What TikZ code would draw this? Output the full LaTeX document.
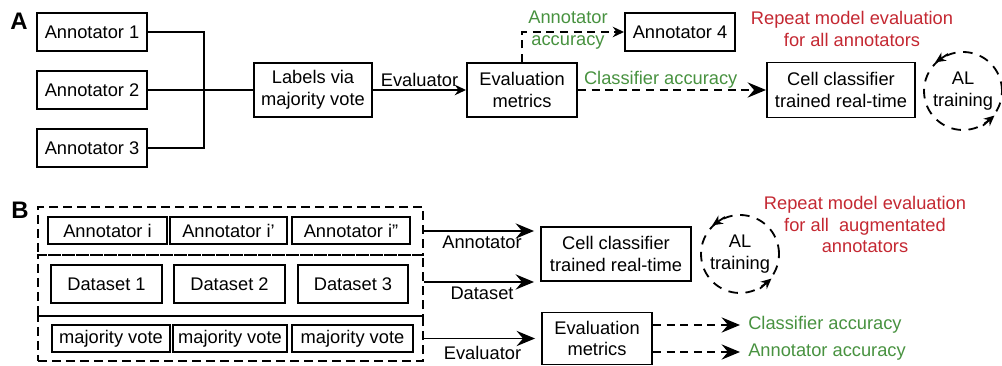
\documentclass[tikz,border=0pt]{standalone}
\usepackage{fontspec}
\setmainfont{Liberation Sans}
\usetikzlibrary{arrows.meta, calc}
\definecolor{accgreen}{RGB}{72, 146, 64}
\definecolor{reprred}{RGB}{196, 40, 50}

\begin{document}
\begin{tikzpicture}[x=0.25mm, y=-0.25mm,
  font=\fontsize{13}{15.6}\selectfont,
  box/.style={draw, line width=1.4pt, inner sep=0pt, align=center},
  frame/.style={draw, line width=1.4pt, dash pattern=on 2.2mm off 1.3mm, inner sep=0pt},
  conn/.style={line width=1.4pt},
  bigarr/.style={conn, -{Stealth[length=4.6mm, width=3.8mm, inset=1.6mm]}},
  smallarr/.style={conn, -{Stealth[length=2.8mm, width=2.6mm]}},
  dashline/.style={dash pattern=on 2mm off 1.4mm},
  edgelbl/.style={inner sep=0pt},
  accnote/.style={text=accgreen, align=center, inner sep=0pt},
  repnote/.style={text=reprred, align=center, inner sep=0pt},
  loopnode/.style={circle, draw, line width=1.3pt, dash pattern=on 2.4mm off 1.9mm, align=center, inner sep=0pt, minimum size=19.5mm},
  looparr/.style={line width=1.3pt, -{Stealth[length=2.6mm, width=2.4mm]}},
  tag/.style={font=\fontsize{17}{17}\selectfont\bfseries}
]
  \useasboundingbox (0,0) rectangle (1002,366);

  % ---- Panel A: majority vote of three annotators ----
  \node[tag] (tagA) at (19,21) {A};
  \node[box, minimum width=27.5mm, minimum height=9.5mm] (ann1) at (92,32) {Annotator 1};
  \node[box, minimum width=27.5mm, minimum height=9.5mm] (ann2) at (92,90) {Annotator 2};
  \node[box, minimum width=27.5mm, minimum height=9.5mm] (ann3) at (92,148) {Annotator 3};
  \coordinate (merge) at (204,90);

  \node[box, minimum width=29.5mm, minimum height=13.5mm] (vote) at (313,90) {Labels via\\majority vote};
  \node[box, minimum width=27.5mm, minimum height=13.5mm] (evalA) at (522,90) {Evaluation\\metrics};
  \node[box, minimum width=27.5mm, minimum height=9.5mm] (ann4) at (680,32) {Annotator 4};
  \node[box, minimum width=37mm, minimum height=13.75mm] (cellA) at (841,90) {Cell classifier\\trained real-time};
  \node[loopnode] (loopA) at (963,91) {AL\\training};
  \node[repnote] (repA) at (852,29) {Repeat model evaluation\\for all annotators};

  \draw[conn] (ann1.east) -| (merge);
  \draw[conn] (ann3.east) -| (merge);
  \draw[conn] (ann2.east) -- (vote.west);
  \draw[smallarr] (vote.east) -- node[edgelbl, above=0.6mm] {Evaluator} (evalA.west);

  % accuracy feedback (dashed)
  \draw[smallarr, dashline] (evalA.north) |- (ann4.west);
  \node[accnote] (annaccA) at (568,30) {Annotator\\accuracy};
  \draw[bigarr, dashline] (evalA.east) -- node[accnote, pos=0.44, above=0.2mm] {Classifier accuracy} (cellA.west);

  % active learning loop
  \draw[looparr] (loopA.112) -- (loopA.134);
  \draw[looparr] (loopA.300) -- (loopA.322);

  % ---- Panel B: augmented annotators ----
  \node[tag] (tagB) at (20,210) {B};
  \node[frame, minimum width=96.25mm, minimum height=12mm] (grpann) at (230.5,231) {};
  \node[frame, minimum width=96.25mm, minimum height=15.25mm] (grpdata) at (230.5,285.5) {};
  \node[frame, minimum width=96.25mm, minimum height=11.25mm] (grpvote) at (230.5,338.5) {};

  \node[box, minimum width=29.75mm, minimum height=6.75mm] (anni) at (107.5,230.5) {Annotator i};
  \node[box, minimum width=29.25mm, minimum height=6.75mm] (annii) at (228.5,230.5) {Annotator i'};
  \node[box, minimum width=29.5mm, minimum height=6.75mm] (anniii) at (351,230.5) {Annotator i''};

  \node[box, minimum width=27.75mm, minimum height=9.5mm] (data1) at (106.5,284) {Dataset 1};
  \node[box, minimum width=27.75mm, minimum height=9.5mm] (data2) at (229.5,284) {Dataset 2};
  \node[box, minimum width=27.5mm, minimum height=9.5mm] (data3) at (353,284) {Dataset 3};

  \node[box, minimum width=29.5mm, minimum height=6.75mm] (mv1) at (111,338.5) {majority vote};
  \node[box, minimum width=28.5mm, minimum height=6.75mm] (mv2) at (230,338.5) {majority vote};
  \node[box, minimum width=30.25mm, minimum height=6.75mm] (mv3) at (352.5,338.5) {majority vote};

  \node[box, minimum width=37.5mm, minimum height=13.5mm] (cellB) at (616,254) {Cell classifier\\trained real-time};
  \node[box, minimum width=27.5mm, minimum height=13mm] (evalB) at (597,338.5) {Evaluation\\metrics};
  \node[loopnode] (loopB) at (740,254) {AL\\training};
  \node[repnote] (repB) at (865,224.5) {Repeat model evaluation\\for all~ augmentated\\annotators};
  \node[accnote, anchor=west] (clsacc) at (748,325) {Classifier accuracy};
  \node[accnote, anchor=west] (annacc) at (748,352) {Annotator accuracy};

  \draw[bigarr, shorten >=1.5mm] (grpann.east) -- node[edgelbl, below=0.9mm] {Annotator} (grpann.east -| cellB.west);
  \draw[bigarr, shorten >=1.5mm] (cellB.south west -| grpdata.east) -- node[edgelbl, below=1.1mm] {Dataset} (cellB.south west);
  \draw[bigarr, shorten >=1.5mm] (grpvote.east) -- node[edgelbl, below=1.6mm] {Evaluator} (grpvote.east -| evalB.west);

  \draw[bigarr, dashline, shorten >=2mm] (evalB.east |- clsacc) -- (clsacc.west);
  \draw[bigarr, dashline, shorten >=2mm] (evalB.east |- annacc) -- (annacc.west);

  \draw[looparr] (loopB.112) -- (loopB.134);
  \draw[looparr] (loopB.300) -- (loopB.322);
\end{tikzpicture}
\end{document}
